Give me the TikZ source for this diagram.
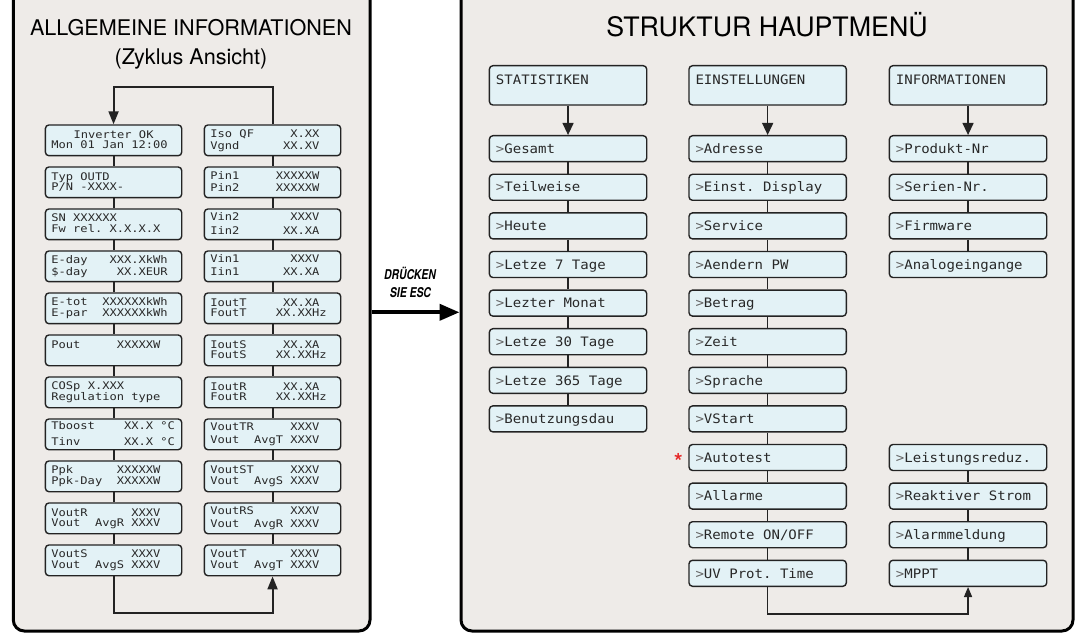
\documentclass[tikz,border=0pt]{standalone}
\usepackage{fontspec}
\usepackage{graphicx}
\setmainfont{TeX Gyre Heros}
\newfontfamily\lcdfont{DejaVu Sans Mono}
\newfontfamily\escfont[FakeStretch=0.77]{TeX Gyre Heros}
\usetikzlibrary{arrows.meta}
\definecolor{panelfill}{RGB}{238,235,232}
\definecolor{boxfill}{RGB}{227,242,246}
\definecolor{boxline}{RGB}{35,35,35}
\definecolor{txt}{RGB}{40,40,40}
\definecolor{gtcol}{RGB}{100,100,100}
\definecolor{starred}{RGB}{230,40,40}
% left panel LCD text: cell 7.27pt (DejaVu Sans Mono 10.5pt scaled 1.15)
\newlength\cwA \setlength\cwA{7.27pt}
\newlength\cwB \setlength\cwB{8.45pt}
\newcommand\ls{\rule[-2.2pt]{0pt}{9.8pt}}
\newcommand\at[2]{\hbox to 0pt{\kern#1\cwA\scalebox{1.15}[1]{#2}\hss}}
\newcommand\lcdline[2]{\hbox to #1\cwA{\ls#2\hss}}
\newcommand\rat[2]{\hbox to 0pt{\kern#1\cwB\scalebox{1.08}[1]{#2}\hss}}
\newcommand\rline[1]{\hbox to 144pt{#1\hss}}
\newcommand\gt{\textcolor{gtcol}{>}}
\newcommand\ri[1]{\rline{\rat{0}{\gt}#1}}
\begin{document}
\begin{tikzpicture}[x=1pt,y=-1pt,
  panel/.style={draw=black,line width=3pt,fill=panelfill,rounded corners=11pt},
  lbox/.style={draw=boxline,line width=1.4pt,fill=boxfill,rounded corners=3.5pt,
    minimum width=136.3pt,minimum height=30.7pt,inner xsep=6pt,inner ysep=0pt,
    text width=124.3pt,align=left,anchor=north west,text=txt,
    font=\lcdfont\fontsize{10.5pt}{10pt}\selectfont},
  hbox/.style={draw=boxline,line width=1.4pt,fill=boxfill,rounded corners=3.5pt,
    minimum width=157.3pt,inner xsep=6.5pt,inner ysep=0pt,text width=144.3pt,align=left,
    anchor=north west,text=txt,font=\lcdfont\fontsize{13pt}{15pt}\selectfont,
    text height=18.5pt,text depth=20.8pt},
  ritem/.style={hbox,text height=17.7pt,text depth=8.3pt},
  lconn/.style={draw=boxline,line width=2pt},
  rconn/.style={draw=boxline,line width=1.3pt},
  lhead/.style={-{Triangle[length=13pt,width=10pt]}},
  rhead/.style={-{Triangle[length=12pt,width=11pt]}},
  title/.style={anchor=base,text=black,font=\fontsize{21.6pt}{25pt}\selectfont},
  esc/.style={anchor=base,font=\escfont\bfseries\itshape\fontsize{13.5pt}{16pt}\selectfont},
]
\useasboundingbox (0,0) rectangle (1079,636);
\fill[white] (0,0) rectangle (1079,636);
\clip (0,0) rectangle (1079,636);

% panels
\draw[panel] (13.3,-30) rectangle (370,631);
\draw[panel] (461,-30) rectangle (1073,631);

% titles
\node[title] (tA) at (191,36) {ALLGEMEINE INFORMATIONEN};
\node[title] (tB) at (191,65) {(Zyklus Ansicht)};
\node[title,font=\fontsize{26.8pt}{30pt}\selectfont] (tC) at (767,36.7) {STRUKTUR HAUPTMENÜ};

% left panel, left column
\node[lbox,align=center] (L0) at (44.7,124.3) {\lcdline{11}{\at{0}{Inverter}\at{9}{OK}}\\\lcdline{16}{\at{0}{Mon}\at{4}{01}\at{7}{Jan}\at{11}{12:00}}};
\node[lbox] (L1) at (44.7,166.3) {\lcdline{17}{\at{0}{Typ}\at{4}{OUTD}}\\\lcdline{17}{\at{0}{P/N}\at{4}{-XXXX-}}};
\node[lbox] (L2) at (44.7,208.3) {\lcdline{17}{\at{0}{SN}\at{3}{XXXXXX}}\\\lcdline{17}{\at{0}{Fw}\at{3}{rel.}\at{8}{X.X.X.X}}};
\node[lbox] (L3) at (44.7,250.3) {\lcdline{17}{\at{0}{E-day}\at{8}{XXX.XkWh}}\\[0.7pt]\lcdline{17}{\at{0}{\$-day}\at{9}{XX.XEUR}}};
\node[lbox] (L4) at (44.7,292.3) {\lcdline{17}{\at{0}{E-tot}\at{7}{XXXXXXkWh}}\\\lcdline{17}{\at{0}{E-par}\at{7}{XXXXXXkWh}}};
\node[lbox] (L5) at (44.7,334.3) {\lcdline{17}{\at{0}{Pout}\at{9}{XXXXXW}}\\\lcdline{17}{}};
\node[lbox] (L6) at (44.7,376.3) {\lcdline{17}{\at{0}{COSp}\at{5}{X.XXX}}\\\lcdline{17}{\at{0}{Regulation}\at{11}{type}}};
\node[lbox] (L7) at (44.7,418.3) {\lcdline{17}{\at{0}{Tboost}\at{10}{XX.X}\at{15}{°C}}\\[5pt]\lcdline{17}{\at{0}{Tinv}\at{10}{XX.X}\at{15}{°C}}};
\node[lbox] (L8) at (44.7,460.3) {\lcdline{17}{\at{0}{Ppk}\at{9}{XXXXXW}}\\\lcdline{17}{\at{0}{Ppk-Day}\at{9}{XXXXXW}}};
\node[lbox] (L9) at (44.7,502.3) {\lcdline{17}{\at{0}{VoutR}\at{11}{XXXV}}\\\lcdline{17}{\at{0}{Vout}\at{6}{AvgR}\at{11}{XXXV}}};
\node[lbox] (L10) at (44.7,544.3) {\lcdline{17}{\at{0}{VoutS}\at{11}{XXXV}}\\[0.7pt]\lcdline{17}{\at{0}{Vout}\at{6}{AvgS}\at{11}{XXXV}}};

% left panel, right column
\node[lbox] (R0) at (203.7,124.3) {\lcdline{17}{\at{0}{Iso}\at{4}{QF}\at{11}{X.XX}}\\[1pt]\lcdline{17}{\at{0}{Vgnd}\at{10}{XX.XV}}};
\node[lbox] (R1) at (203.7,166.3) {\lcdline{17}{\at{0}{Pin1}\at{9}{XXXXXW}}\\[0.7pt]\lcdline{17}{\at{0}{Pin2}\at{9}{XXXXXW}}};
\node[lbox] (R2) at (203.7,208.3) {\lcdline{17}{\at{0}{Vin2}\at{11}{XXXV}}\\[3pt]\lcdline{17}{\at{0}{Iin2}\at{10}{XX.XA}}};
\node[lbox] (R3) at (203.7,250.3) {\lcdline{17}{\at{0}{Vin1}\at{11}{XXXV}}\\[1.7pt]\lcdline{17}{\at{0}{Iin1}\at{10}{XX.XA}}};
\node[lbox] (R4) at (203.7,292.3) {\lcdline{17}{\at{0}{IoutT}\at{10}{XX.XA}}\\\lcdline{17}{\at{0}{FoutT}\at{9}{XX.XXHz}}};
\node[lbox] (R5) at (203.7,334.3) {\lcdline{17}{\at{0}{IoutS}\at{10}{XX.XA}}\\\lcdline{17}{\at{0}{FoutS}\at{9}{XX.XXHz}}};
\node[lbox] (R6) at (203.7,376.3) {\lcdline{17}{\at{0}{IoutR}\at{10}{XX.XA}}\\\lcdline{17}{\at{0}{FoutR}\at{9}{XX.XXHz}}};
\node[lbox] (R7) at (203.7,418.3) {\lcdline{17}{\at{0}{VoutTR}\at{11}{XXXV}}\\[2.7pt]\lcdline{17}{\at{0}{Vout}\at{6}{AvgT}\at{11}{XXXV}}};
\node[lbox] (R8) at (203.7,460.3) {\lcdline{17}{\at{0}{VoutST}\at{11}{XXXV}}\\[1.7pt]\lcdline{17}{\at{0}{Vout}\at{6}{AvgS}\at{11}{XXXV}}};
\node[lbox] (R9) at (203.7,502.3) {\lcdline{17}{\at{0}{VoutRS}\at{11}{XXXV}}\\[2.3pt]\lcdline{17}{\at{0}{Vout}\at{6}{AvgR}\at{11}{XXXV}}};
\node[lbox] (R10) at (203.7,544.3) {\lcdline{17}{\at{0}{VoutT}\at{11}{XXXV}}\\[0.7pt]\lcdline{17}{\at{0}{Vout}\at{6}{AvgT}\at{11}{XXXV}}};

% left connectors
\foreach \a/\b in {L0/L1,L1/L2,L2/L3,L3/L4,L4/L5,L5/L6,L6/L7,L7/L8,L8/L9,L9/L10,
                   R0/R1,R1/R2,R2/R3,R3/R4,R4/R5,R5/R6,R6/R7,R7/R8,R8/R9,R9/R10}
  \draw[lconn] (\a.south) -- (\b.north);
\draw[lconn,lhead] (R0.north) -- ++(0,-37.6) -| (L0.north);
\draw[lconn,lhead] (L10.south) -- ++(0,37) -| (R10.south);

% middle arrow
\node[esc] (escA) at (410,280) {DRÜCKEN};
\node[esc] (escB) at (410.5,297.3) {SIE ESC};
\coordinate (escL) at (371.5,312.3);
\coordinate (escR) at (459.5,312.3);
\draw[line width=4pt,-{Triangle[length=20pt,width=16pt]}] (escL) -- (escR);

% right panel headers
\node[hbox,minimum height=39.3pt] (H1) at (488.7,65) {\rline{\rat{0}{STATISTIKEN}}};
\node[hbox,minimum height=39.3pt] (H2) at (688.3,65) {\rline{\rat{0}{EINSTELLUNGEN}}};
\node[hbox,minimum height=39.3pt] (H3) at (888.7,65) {\rline{\rat{0}{INFORMATIONEN}}};

% column 1
\node[ritem] (A0) at (488.7,135) {\ri{\rat{1}{Gesamt}}};
\node[ritem] (A1) at (488.7,173.6) {\ri{\rat{1}{Teilweise}}};
\node[ritem] (A2) at (488.7,212.2) {\ri{\rat{1}{Heute}}};
\node[ritem] (A3) at (488.7,250.8) {\ri{\rat{1}{Letze}\rat{7}{7}\rat{9}{Tage}}};
\node[ritem] (A4) at (488.7,289.4) {\ri{\rat{1}{Lezter}\rat{8}{Monat}}};
\node[ritem] (A5) at (488.7,328) {\ri{\rat{1}{Letze}\rat{7}{30}\rat{10}{Tage}}};
\node[ritem] (A6) at (488.7,366.6) {\ri{\rat{1}{Letze}\rat{7}{365}\rat{11}{Tage}}};
\node[ritem] (A7) at (488.7,405.2) {\ri{\rat{1}{Benutzungsdau}}};

% column 2
\node[ritem] (B0) at (688.3,135) {\ri{\rat{1}{Adresse}}};
\node[ritem] (B1) at (688.3,173.6) {\ri{\rat{1}{Einst.}\rat{8}{Display}}};
\node[ritem] (B2) at (688.3,212.2) {\ri{\rat{1}{Service}}};
\node[ritem] (B3) at (688.3,250.8) {\ri{\rat{1}{Aendern}\rat{9}{PW}}};
\node[ritem] (B4) at (688.3,289.4) {\ri{\rat{1}{Betrag}}};
\node[ritem] (B5) at (688.3,328) {\ri{\rat{1}{Zeit}}};
\node[ritem] (B6) at (688.3,366.6) {\ri{\rat{1}{Sprache}}};
\node[ritem] (B7) at (688.3,405.2) {\ri{\rat{1}{VStart}}};
\node[ritem] (B8) at (688.3,443.8) {\ri{\rat{1}{Autotest}}};
\node[ritem] (B9) at (688.3,482.4) {\ri{\rat{1}{Allarme}}};
\node[ritem] (B10) at (688.3,521) {\ri{\rat{1}{Remote}\rat{8}{ON/OFF}}};
\node[ritem] (B11) at (688.3,559.6) {\ri{\rat{1}{UV}\rat{4}{Prot.}\rat{10}{Time}}};

% column 3
\node[ritem] (C0) at (888.7,135) {\ri{\rat{1}{Produkt-Nr}}};
\node[ritem] (C1) at (888.7,173.6) {\ri{\rat{1}{Serien-Nr.}}};
\node[ritem] (C2) at (888.7,212.2) {\ri{\rat{1}{Firmware}}};
\node[ritem] (C3) at (888.7,250.8) {\ri{\rat{1}{Analogeingange}}};
\node[ritem] (C8) at (888.7,443.8) {\ri{\rat{1}{Leistungsreduz.}}};
\node[ritem] (C9) at (888.7,482.4) {\ri{\rat{1}{Reaktiver}\rat{11}{Strom}}};
\node[ritem] (C10) at (888.7,521) {\ri{\rat{1}{Alarmmeldung}}};
\node[ritem] (C11) at (888.7,559.6) {\ri{\rat{1}{MPPT}}};

\node[anchor=base,text=starred,font=\bfseries\fontsize{22pt}{22pt}\selectfont] (ast) at (678.3,469.5) {*};

% right connectors
\draw[rconn,rhead] (H1.south) -- (A0.north);
\draw[rconn,rhead] (H2.south) -- (B0.north);
\draw[rconn,rhead] (H3.south) -- (C0.north);
\foreach \a/\b in {A0/A1,A1/A2,A2/A3,A3/A4,A4/A5,A5/A6,A6/A7,
                   B0/B1,B1/B2,B2/B3,B3/B4,B4/B5,B5/B6,B6/B7,B7/B8,B8/B9,B9/B10,B10/B11,
                   C0/C1,C1/C2,C2/C3,C8/C9,C9/C10,C10/C11}
  \draw[rconn] (\a.south) -- (\b.north);
\draw[rconn,-{Triangle[length=10pt,width=8pt]}] (B11.south) -- ++(0,27) -| (C11.south);
\end{tikzpicture}
\end{document}
